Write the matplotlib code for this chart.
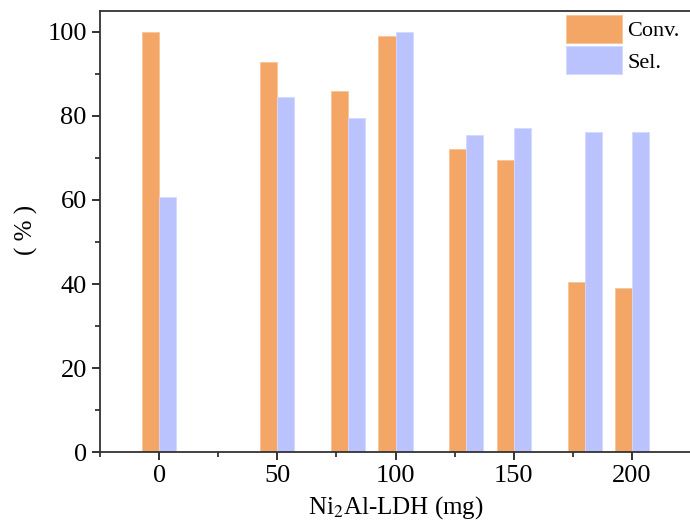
import matplotlib
matplotlib.use("Agg")
import matplotlib.pyplot as plt
from matplotlib.ticker import MultipleLocator

# Ni2Al-LDH loading (mg) and performance (%)
loading = [0, 50, 80, 100, 130, 150, 180, 200]
conversion = [100.0, 92.9, 85.8, 98.9, 72.0, 69.6, 40.4, 39.1]
selectivity = [60.8, 84.4, 79.6, 100.0, 75.4, 77.0, 76.2, 76.1]
x_ticks = [0, 50, 100, 150, 200]
y_ticks = [0, 20, 40, 60, 80, 100]

plt.rcParams['font.family'] = ['Liberation Serif', 'Noto Sans CJK SC']
plt.rcParams['mathtext.fontset'] = 'stix'

fig = plt.figure(figsize=(6.9, 5.24), dpi=100)
ax = fig.add_axes([100 / 690, 1 - 452.3 / 524, 591 / 690, (452.3 - 10.7) / 524])

bar_w = 7.2
ax.bar(loading, conversion, width=-bar_w, align='edge', color='#F3A666',
       edgecolor='#F6C49A', linewidth=0.6, label='Conv.')
ax.bar(loading, selectivity, width=bar_w, align='edge', color='#BBC3FF',
       edgecolor='#D3D8FF', linewidth=0.6, label='Sel.')

ax.set_xlim(-25, 225)
ax.set_ylim(0, 105)
ax.set_xticks(x_ticks)
ax.set_yticks(y_ticks)
ax.xaxis.set_minor_locator(MultipleLocator(25))
ax.yaxis.set_minor_locator(MultipleLocator(10))
ax.tick_params(which='major', direction='out', length=6, width=1.3,
               labelsize=19, color='#222222')
ax.tick_params(which='minor', direction='out', length=3.5, width=1.2,
               color='#222222')
for side in ('top', 'right', 'left', 'bottom'):
    ax.spines[side].set_linewidth(1.3)
    ax.spines[side].set_color('#333333')

ax.set_xlabel(r'Ni$_2$Al-LDH (mg)', fontsize=18, labelpad=5)
ax.set_ylabel('( % )', fontsize=18)
ax.yaxis.set_label_coords(-62 / 591, 0.503)

leg = ax.legend(loc='upper left', bbox_to_anchor=(462 / 591, 1.0),
                frameon=False, fontsize=16, handlelength=2.5,
                handleheight=1.55, handletextpad=0.25, labelspacing=0.15,
                borderaxespad=0.1, borderpad=0.1)

fig.savefig('out.png', dpi=100)
